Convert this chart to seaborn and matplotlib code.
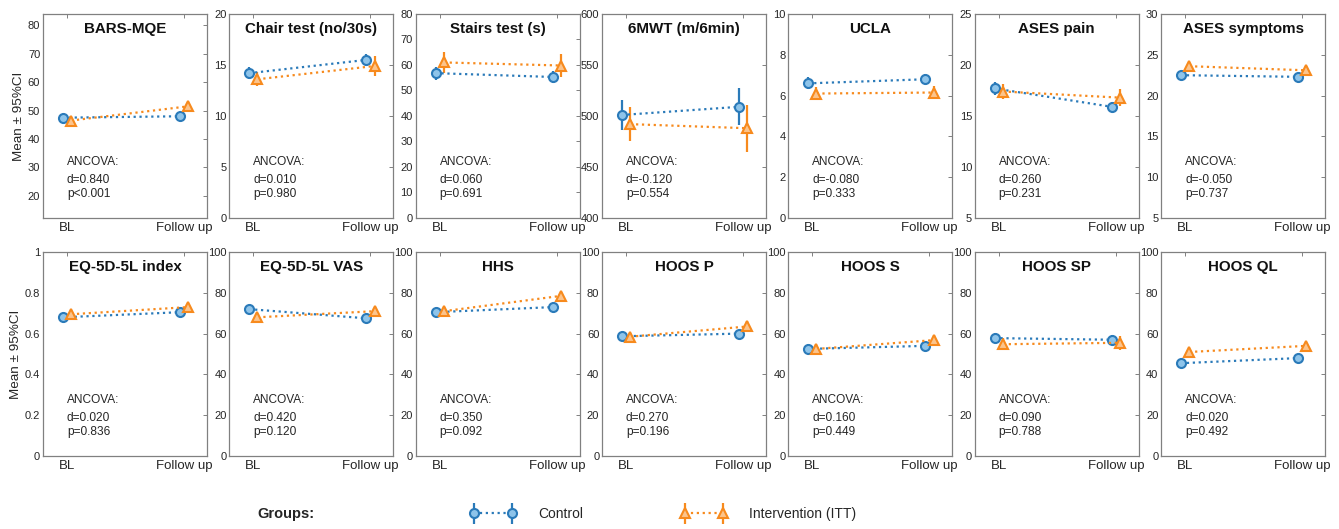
import numpy as np
import pandas as pd
import matplotlib
matplotlib.use("Agg")
import matplotlib.pyplot as plt
import seaborn as sns
from matplotlib.lines import Line2D
from matplotlib.collections import LineCollection
from matplotlib.container import ErrorbarContainer
from matplotlib.legend_handler import HandlerErrorbar

# ---------------- data ----------------
titles = ["BARS-MQE", "Chair test (no/30s)", "Stairs test (s)", "6MWT (m/6min)", "UCLA",
          "ASES pain", "ASES symptoms",
          "EQ-5D-5L index", "EQ-5D-5L VAS", "HHS", "HOOS P", "HOOS S", "HOOS SP", "HOOS QL"]
timepoints = ["BL", "Follow up"]
groups = ["Control", "Intervention (ITT)"]

ctrl_bl = [47.5, 14.2, 56.8, 501, 6.6, 17.7, 22.5, 0.680, 72.0, 70.5, 58.7, 52.5, 57.8, 45.5]
ctrl_fu = [48.0, 15.5, 55.3, 509, 6.8, 15.9, 22.3, 0.705, 67.5, 73.0, 60.0, 54.0, 57.0, 48.0]
ctrl_ci_bl = [0.8, 0.6, 2.5, 15, 0.30, 0.6, 0.4, 0.012, 1.2, 1.2, 1.5, 2.6, 2.5, 1.2]
ctrl_ci_fu = [0.8, 0.6, 2.5, 18, 0.25, 0.5, 0.4, 0.012, 1.2, 1.2, 1.5, 2.6, 2.5, 1.5]

int_bl = [46.5, 13.6, 61.0, 492, 6.10, 17.4, 23.6, 0.695, 68.0, 71.0, 58.5, 52.5, 54.8, 51.0]
int_fu = [51.5, 14.9, 59.8, 488, 6.15, 16.8, 23.1, 0.730, 71.0, 78.5, 63.5, 56.8, 55.5, 54.0]
int_ci_bl = [0.8, 0.7, 4.0, 17, 0.30, 0.7, 0.4, 0.012, 1.2, 1.3, 1.5, 2.6, 3.0, 1.5]
int_ci_fu = [0.8, 1.0, 4.5, 23, 0.30, 0.8, 0.5, 0.015, 1.3, 2.1, 2.5, 2.6, 3.5, 1.5]

d_vals = ["0.840", "0.010", "0.060", "-0.120", "-0.080", "0.260", "-0.050",
          "0.020", "0.420", "0.350", "0.270", "0.160", "0.090", "0.020"]
p_vals = ["<0.001", "=0.980", "=0.691", "=0.554", "=0.333", "=0.231", "=0.737",
          "=0.836", "=0.120", "=0.092", "=0.196", "=0.449", "=0.788", "=0.492"]

ylims = [(12.2, 84), (0, 20), (0, 80), (400, 600), (0, 10), (5, 25), (5, 30),
         (0, 1), (0, 100), (0, 100), (0, 100), (0, 100), (0, 100), (0, 100)]
ytick_start = [20, 0, 0, 400, 0, 5, 5, 0, 0, 0, 0, 0, 0, 0]
ytick_step = [10, 5, 10, 50, 2, 5, 5, 0.2, 20, 20, 20, 20, 20, 20]

# long table
rows = []
for i, t in enumerate(titles):
    for g, bl, fu, cbl, cfu in [(groups[0], ctrl_bl, ctrl_fu, ctrl_ci_bl, ctrl_ci_fu),
                                (groups[1], int_bl, int_fu, int_ci_bl, int_ci_fu)]:
        rows.append(dict(outcome=t, group=g, time=0, mean=bl[i], ci=cbl[i]))
        rows.append(dict(outcome=t, group=g, time=1, mean=fu[i], ci=cfu[i]))
df = pd.DataFrame(rows)

# ---------------- style ----------------
sns.set_style("white")
plt.rcParams["font.family"] = ["Liberation Sans", "DejaVu Sans"]

blue = "#2a7ab9"
blue_face = "#8ec4ea"
orange = "#f78a1d"
orange_face = "#fcc48c"
style = {
    groups[0]: dict(color=blue, face=blue_face, marker="o", ms=6.5, offset=-0.035),
    groups[1]: dict(color=orange, face=orange_face, marker="^", ms=7.5, offset=0.035),
}
spine_col = "#808080"
txt_col = "#262626"

fig, axes = plt.subplots(2, 7, figsize=(13.39, 5.29), dpi=100)
fig.subplots_adjust(left=43 / 1339, right=1325 / 1339, top=1 - 14 / 529,
                    bottom=1 - 456 / 529, wspace=0.137, hspace=0.167)

for i, (ax, t) in enumerate(zip(axes.flat, titles)):
    sub_all = df[df.outcome == t]
    for g in groups:
        st = style[g]
        sub = sub_all[sub_all.group == g].copy()
        sub["x"] = sub["time"] + 1 + st["offset"]
        ax.errorbar(sub["x"], sub["mean"], yerr=sub["ci"], fmt="none",
                    ecolor=st["color"], elinewidth=1.6, capsize=0, zorder=2)
        sns.lineplot(data=sub, x="x", y="mean", ax=ax, color=st["color"],
                     linestyle=":", linewidth=1.6, marker=st["marker"],
                     markersize=st["ms"], markerfacecolor=st["face"],
                     markeredgecolor=st["color"], markeredgewidth=1.5,
                     errorbar=None, legend=False, sort=False, zorder=3)
    ax.set_xlim(0.795, 2.195)
    ax.set_ylim(*ylims[i])
    ticks = np.arange(ytick_start[i], ylims[i][1] + 1e-9, ytick_step[i])
    ax.set_yticks(ticks)
    ax.set_yticklabels([f"{v:g}" for v in ticks])
    ax.set_xticks([1, 2])
    ax.set_xticklabels(timepoints)
    ax.set_xlabel("")
    ax.set_ylabel("")
    ax.tick_params(axis="both", direction="in", top=True, right=True, length=3,
                   width=0.7, color=spine_col)
    ax.tick_params(axis="y", labelsize=8, labelcolor=txt_col, pad=2)
    ax.tick_params(axis="x", labelsize=9.5, labelcolor=txt_col, pad=3)
    for s in ax.spines.values():
        s.set_color(spine_col)
        s.set_linewidth(0.9)
    ax.text(0.5, 0.926, t, transform=ax.transAxes, ha="center", va="center",
            fontsize=10.9, fontweight="bold", color="#111111")
    ax.text(0.146, 0.275, "ANCOVA:", transform=ax.transAxes, ha="left",
            va="center", fontsize=8.6, color=txt_col)
    ax.text(0.146, 0.186, f"d={d_vals[i]}", transform=ax.transAxes, ha="left",
            va="center", fontsize=8.6, color=txt_col)
    ax.text(0.146, 0.118, f"p{p_vals[i]}", transform=ax.transAxes, ha="left",
            va="center", fontsize=8.6, color=txt_col)

for r in range(2):
    axes[r, 0].set_ylabel("Mean \u00b1 95%CI", fontsize=9.7, color=txt_col, labelpad=2)

# legend
handles = []
for g in groups:
    st = style[g]
    line = Line2D([], [], color=st["color"], linestyle=":", linewidth=1.6,
                  marker=st["marker"], markersize=st["ms"],
                  markerfacecolor=st["face"], markeredgecolor=st["color"],
                  markeredgewidth=1.5)
    bars = LineCollection([], colors=st["color"], linewidths=1.6)
    handles.append(ErrorbarContainer((line, (), (bars,)), has_xerr=False, has_yerr=True))
fig.legend(handles, groups, loc="center", bbox_to_anchor=(0.495, 0.028), ncol=2,
           frameon=False, fontsize=10, numpoints=2, handlelength=3.4,
           handletextpad=1.55, columnspacing=7.0,
           handler_map={ErrorbarContainer: HandlerErrorbar(yerr_size=0.75)})
fig.text(257 / 1339, 0.028, "Groups:", ha="left", va="center", fontsize=10.5,
         fontweight="bold", color=txt_col)

fig.savefig("out.png", dpi=100)
